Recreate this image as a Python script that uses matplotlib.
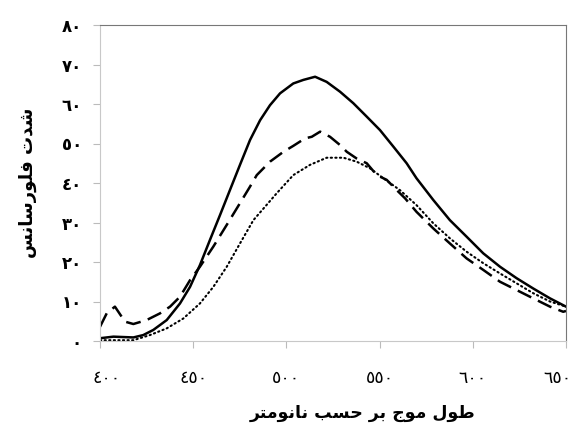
import numpy as np
import matplotlib
matplotlib.use("Agg")
from matplotlib import pyplot as plt
from matplotlib import transforms

# contextual forms: isolated, final, initial, medial
FORMS = {
	'ا': ('\uFE8D', '\uFE8E', None, None),
	'ب': ('\uFE8F', '\uFE90', '\uFE91', '\uFE92'),
	'ت': ('\uFE95', '\uFE96', '\uFE97', '\uFE98'),
	'ج': ('\uFE9D', '\uFE9E', '\uFE9F', '\uFEA0'),
	'ح': ('\uFEA1', '\uFEA2', '\uFEA3', '\uFEA4'),
	'د': ('\uFEA9', '\uFEAA', None, None),
	'ر': ('\uFEAD', '\uFEAE', None, None),
	'س': ('\uFEB1', '\uFEB2', '\uFEB3', '\uFEB4'),
	'ش': ('\uFEB5', '\uFEB6', '\uFEB7', '\uFEB8'),
	'ط': ('\uFEC1', '\uFEC2', '\uFEC3', '\uFEC4'),
	'ف': ('\uFED1', '\uFED2', '\uFED3', '\uFED4'),
	'ل': ('\uFEDD', '\uFEDE', '\uFEDF', '\uFEE0'),
	'م': ('\uFEE1', '\uFEE2', '\uFEE3', '\uFEE4'),
	'ن': ('\uFEE5', '\uFEE6', '\uFEE7', '\uFEE8'),
	'و': ('\uFEED', '\uFEEE', None, None),
}

def shape(txt):
	out = []
	for i, ch in enumerate(txt):
		if ch not in FORMS:
			out.append(ch)
			continue
		prev = txt[i-1] if i > 0 else ' '
		nxt = txt[i+1] if i < len(txt)-1 else ' '
		join_prev = prev in FORMS and FORMS[prev][2] is not None
		join_next = nxt in FORMS and FORMS[ch][2] is not None
		f = FORMS[ch]
		if join_prev and join_next:
			out.append(f[3])
		elif join_prev:
			out.append(f[1])
		elif join_next:
			out.append(f[2])
		else:
			out.append(f[0])
	return ''.join(reversed(out))	#right to left

def ar_digits(n):
	return ''.join(chr(0x0660 + int(d)) for d in str(n))

x_label = "طول موج بر حسب نانومتر"
y_label = "شدت فلورسانس"
x_ticks = [400, 450, 500, 550, 600, 650]
y_ticks = [0, 10, 20, 30, 40, 50, 60, 70, 80]

solid_x = [400, 407.2, 417.9, 423.2, 428.6, 435.8, 442.9, 448.3, 453.6, 459, 464.4, 469.7, 475.1,
	480.5, 485.9, 491.2, 496.6, 503.7, 509.1, 515.4, 521.6, 528.8, 535.9, 543.1, 550.2, 557.4,
	564.5, 569.8, 578.8, 587.7, 596.7, 605.6, 614.6, 623.5, 632.4, 641.4, 650]
solid_y = [0.7, 1.1, 0.9, 1.5, 2.8, 5.3, 9.5, 13.7, 19.2, 25.6, 31.9, 38.2, 44.6,
	50.9, 55.9, 59.7, 62.7, 65.2, 66.1, 66.9, 65.6, 63.1, 60.2, 56.8, 53.4, 49.2,
	45, 41.2, 35.7, 30.6, 26.4, 22.2, 18.8, 15.9, 13.3, 10.8, 8.7]

dash_x = [400, 403.6, 408, 413.4, 417.9, 425, 432.2, 437.6, 442.9, 448.3, 453.6, 460.8, 468,
	475.1, 480.5, 484.1, 491.2, 498.4, 503.7, 510, 513.6, 518.1, 523.4, 528.8, 532.4, 537.7,
	543.1, 548.5, 553.8, 559.2, 563.7, 569.8, 578.8, 587.7, 596.7, 605.6, 614.6, 623.5,
	632.4, 641.4, 648.5, 650]
dash_y = [3.6, 7, 8.7, 4.9, 4.3, 5.3, 7, 8.7, 11.2, 15.4, 18.8, 23.9, 29.4,
	34.9, 39.1, 42, 45.4, 47.9, 49.4, 51.3, 51.7, 53, 51.7, 49.6, 47.9, 46.2,
	45, 42, 40.8, 38.2, 36.1, 32.7, 28.5, 24.7, 20.9, 18, 15, 12.9,
	10.8, 8.7, 7.4, 7.6]

dot_x = [400, 417.9, 426.8, 435.8, 444.7, 453.6, 460.8, 468, 475.1, 482.3, 494.8, 503.7, 512.7,
	521.6, 530.6, 537.7, 544.9, 552, 560.9, 569.8, 578.8, 587.7, 596.7, 605.6, 614.6, 623.5,
	632.4, 641.4, 650]
dot_y = [0.2, 0.2, 1.5, 3.2, 5.7, 9.5, 13.7, 18.8, 24.7, 30.6, 37.4, 42, 44.6,
	46.4, 46.4, 45.4, 43.7, 41.2, 38.2, 34.4, 29.8, 26, 22.6, 19.7, 17.1, 14.6,
	12.1, 10, 8.7]

fig = plt.figure(figsize=(5.77, 4.30), dpi=100)
ax = fig.add_axes([100/577, 1-341/430, 466/577, 316/430])

ax.plot(solid_x, solid_y, color="black", lw=1.8, solid_joinstyle="round")
ax.plot(dash_x, dash_y, color="black", lw=1.8, dashes=(6, 3))
ax.plot(dot_x, dot_y, color="black", lw=1.5, dashes=(0.6, 1.6), dash_capstyle="round")

ax.set_xlim(400, 650)
ax.set_ylim(0, 80)
ax.set_xticks(x_ticks)
ax.set_yticks(y_ticks)
ax.set_xticklabels([ar_digits(v) for v in x_ticks], fontsize=12.5, family="DejaVu Sans")
ax.set_yticklabels([ar_digits(v) for v in y_ticks], fontsize=12, fontweight="bold", family="DejaVu Sans")
ax.tick_params(axis="x", length=5, color="#bbbbbb", pad=15)
ax.tick_params(axis="y", length=5, color="#bbbbbb", pad=8)

# first and last x labels sit a bit inward, as in the original
lbls = ax.get_xticklabels()
lbls[0].set_transform(lbls[0].get_transform() + transforms.ScaledTranslation(7/100, 0, fig.dpi_scale_trans))
lbls[-1].set_transform(lbls[-1].get_transform() + transforms.ScaledTranslation(-9/100, 0, fig.dpi_scale_trans))

ax.spines["left"].set_color("#c8c8c8")
ax.spines["bottom"].set_color("#c8c8c8")
ax.spines["top"].set_color("#777777")
ax.spines["right"].set_color("#777777")

ax.set_xlabel(shape(x_label), fontsize=12.5, fontweight="bold", family="DejaVu Sans")
ax.xaxis.set_label_coords(0.564, -0.2)
ax.set_ylabel(shape(y_label), fontsize=13, fontweight="bold", family="DejaVu Sans", labelpad=18)

fig.savefig("out.png", dpi=100)
